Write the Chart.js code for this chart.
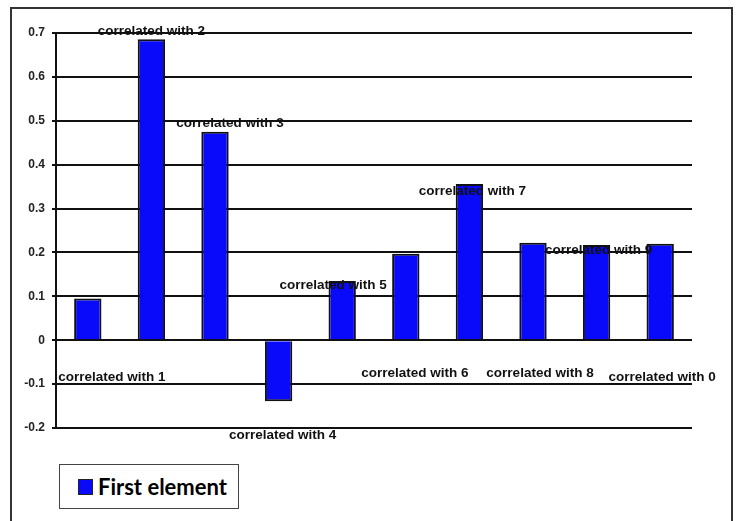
<!DOCTYPE html>
<html>
<head>
<meta charset="utf-8">
<script src="https://cdn.jsdelivr.net/npm/chart.js@4"></script>
<style>
    html, body { margin: 0; padding: 0; background: #fff; }
    #wrap { position: relative; width: 739px; height: 521px; overflow: hidden; }
    #frame {
        position: absolute; left: 10px; top: 7px; width: 723px; height: 530px;
        border: 2px solid #333; box-sizing: border-box;
    }
    #grafica { position: absolute; left: 0; top: 0; }
    #leyenda {
        position: absolute; left: 59px; top: 464px; width: 180px; height: 45px;
        border: 1px solid #444; box-sizing: border-box; background: #fff;
        display: flex; align-items: center; padding-left: 18px;
        font-family: "Comic Sans MS", "Lato", sans-serif; font-weight: bold; font-size: 22px;
    }
    #leyenda span.caja {
        display: inline-block; width: 13px; height: 14px; margin-right: 5px;
        border: 1px solid #222;
    }
</style>
</head>
<body>
<div id="wrap">
    <div id="frame"></div>
    <canvas id="grafica" width="739" height="521"></canvas>
    <div id="leyenda"></div>
</div>
<script>
const categorias = ['correlated with 1', 'correlated with 2', 'correlated with 3', 'correlated with 4',
    'correlated with 5', 'correlated with 6', 'correlated with 7', 'correlated with 8',
    'correlated with 9', 'correlated with 0'];
const valores = [0.095, 0.686, 0.475, -0.139, 0.135, 0.197, 0.356, 0.222, 0.217, 0.22];
const serie = 'First element';
const marcasY = ['-0.2', '-0.1', '0', '0.1', '0.2', '0.3', '0.4', '0.5', '0.6', '0.7'];
const minY = -0.2;
const maxY = 0.7;

// desplazamiento de cada etiqueta respecto al extremo de su barra (px)
const desplazaEtiqueta = [[24, 79], [0, -8], [15, -8], [4, 34], [-9, 4],
    [9, 120], [3, 7], [7, 130], [2, 5], [2, 134]];

const azul = 'rgb(10, 10, 250)';

const etiquetasBarras = {
    id: 'etiquetasBarras',
    afterDatasetsDraw(chart) {
        const ctx = chart.ctx;
        const meta = chart.getDatasetMeta(0);
        ctx.save();
        ctx.font = 'bold 13.5px "Liberation Sans", Arial, sans-serif';
        ctx.fillStyle = '#111';
        ctx.textAlign = 'center';
        ctx.textBaseline = 'middle';
        meta.data.forEach((barra, i) => {
            const [dx, dy] = desplazaEtiqueta[i];
            ctx.fillText(chart.data.labels[i], barra.x + dx, barra.y + dy);
        });
        ctx.restore();
    }
};

const grafica = document.getElementById('grafica');
const chart = new Chart(grafica.getContext('2d'), {
    type: 'bar',
    data: {
        labels: categorias,
        datasets: [{
            label: serie,
            data: valores,
            backgroundColor: azul,
            borderColor: '#111',
            borderWidth: 2,
            barPercentage: 0.43,
            categoryPercentage: 1
        }]
    },
    options: {
        responsive: false,
        devicePixelRatio: 1,
        animation: false,
        layout: { padding: { left: 0, right: 47, top: 33, bottom: 85 } },
        plugins: {
            legend: { display: false },
            tooltip: { enabled: false }
        },
        scales: {
            x: {
                ticks: { display: false },
                grid: { display: false },
                border: { display: false }
            },
            y: {
                min: minY,
                max: maxY,
                afterFit(scale) { scale.width = 56; },
                afterBuildTicks(scale) {
                    scale.ticks = marcasY.map(t => ({ value: Number(t) }));
                },
                ticks: {
                    padding: 7,
                    color: '#222',
                    font: { family: '"Liberation Sans", Arial, sans-serif', size: 12, weight: 'bold' },
                    callback: (v) => marcasY[Math.round((v - minY) * 10)]
                },
                grid: { color: '#111', lineWidth: 2, tickLength: 4, tickColor: '#111' },
                border: { display: true, color: '#111', width: 2 }
            }
        }
    },
    plugins: [etiquetasBarras]
});

const leyenda = document.getElementById('leyenda');
leyenda.innerHTML = `<span class="caja" style="background:${azul}"></span>${serie}`;
</script>
</body>
</html>
